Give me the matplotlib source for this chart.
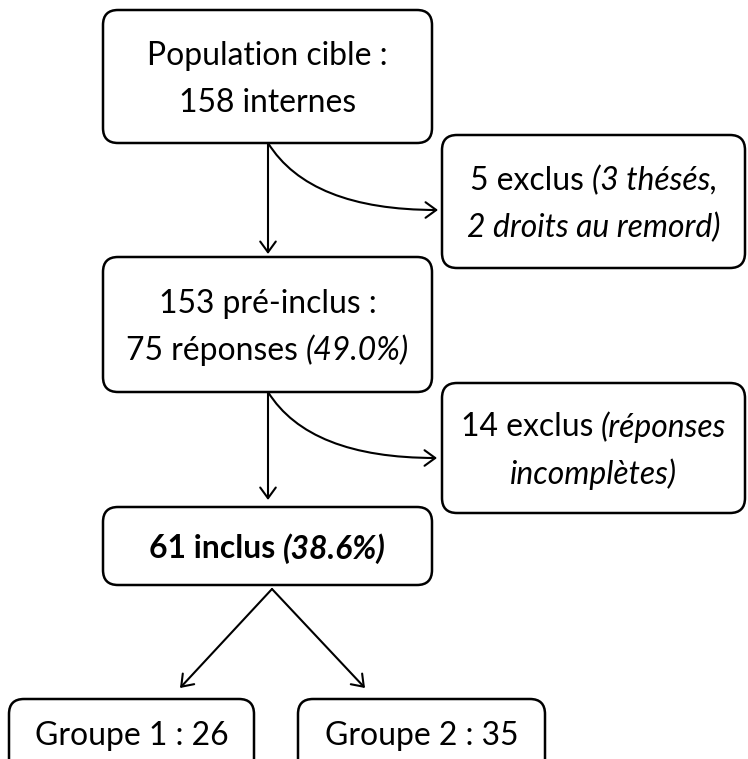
import matplotlib
matplotlib.use("Agg")
import matplotlib.pyplot as plt
from matplotlib.patches import FancyBboxPatch, FancyArrowPatch

plt.rcParams['font.family'] = ['Lato', 'DejaVu Sans']

# Flow data
population_cible = 158
exclus_1 = 5
theses = 3
droits_remord = 2
pre_inclus = 153
reponses = 75
taux_reponse = 49.0
exclus_2 = 14
inclus = 61
taux_inclusion = 38.6
groupes = ['Groupe 1', 'Groupe 2']
effectifs = [26, 35]

W, H = 748, 759
fig = plt.figure(figsize=(W / 100, H / 100), dpi=100)
ax = fig.add_axes([0, 0, 1, 1])
ax.set_xlim(0, W)
ax.set_ylim(H, 0)
ax.axis('off')
renderer = fig.canvas.get_renderer()

# box layout in pixels: x0, y0, x1, y1
boxes = {
    'pop': (103, 10, 432, 143),
    'excl1': (442, 135, 745, 268),
    'pre': (103, 257, 432, 392),
    'excl2': (442, 383, 745, 513),
    'incl': (103, 507, 432, 585),
    'g1': (9, 699, 254, 790),
    'g2': (298, 699, 545, 790),
}

for x0, y0, x1, y1 in boxes.values():
    ax.add_patch(FancyBboxPatch((x0, y0), x1 - x0, y1 - y0,
                                boxstyle='round,pad=0,rounding_size=15',
                                fc='white', ec='black', lw=1.8))

# font size fitted so the first line has the reference width
probe = ax.text(0, 0, 'Population cible :', fontsize=20)
fs = 20 * 241 / probe.get_window_extent(renderer).width
probe.remove()


def seg_width(s, **kw):
    t = ax.text(0, 0, s, fontsize=fs, **kw)
    w = t.get_window_extent(renderer).width
    t.remove()
    return w


space = seg_width('x x') - seg_width('xx')


def line(xc, yc, segments):
    # segments: list of (text, style, weight)
    widths = [seg_width(s, style=st, weight=wt) for s, st, wt in segments]
    total = sum(widths) + space * (len(segments) - 1)
    x = xc - total / 2
    for (s, st, wt), w in zip(segments, widths):
        ax.text(x, yc, s, fontsize=fs, style=st, weight=wt,
                ha='left', va='center')
        x += w + space


def box_text(key, lines, gap=47):
    x0, y0, x1, y1 = boxes[key]
    xc = (x0 + x1) / 2
    yc = (y0 + y1) / 2 + 3 if key not in ('g1', 'g2') else 736
    n = len(lines)
    for i, segs in enumerate(lines):
        line(xc, yc + (i - (n - 1) / 2) * gap, segs)


N, I = 'normal', 'italic'
box_text('pop', [[('Population cible :', N, 'normal')],
                 [(f'{population_cible} internes', N, 'normal')]])
box_text('excl1', [[(f'{exclus_1} exclus', N, 'normal'), (f'({theses} thésés,', I, 'normal')],
                   [(f'{droits_remord} droits au remord)', I, 'normal')]])
box_text('pre', [[(f'{pre_inclus} pré-inclus :', N, 'normal')],
                 [(f'{reponses} réponses', N, 'normal'), (f'({taux_reponse:.1f}%)', I, 'normal')]])
box_text('excl2', [[(f'{exclus_2} exclus', N, 'normal'), ('(réponses', I, 'normal')],
                   [('incomplètes)', I, 'normal')]])
box_text('incl', [[(f'{inclus} inclus', N, 'bold'), (f'({taux_inclusion:.1f}%)', I, 'bold')]])
for key, g, n in zip(['g1', 'g2'], groupes, effectifs):
    box_text(key, [[(f'{g} : {n}', N, 'normal')]])

# arrows
style = '->,head_length=0.55,head_width=0.4'


def arrow(a, b, conn='arc3'):
    ax.add_patch(FancyArrowPatch(a, b, arrowstyle=style, mutation_scale=14,
                                 connectionstyle=conn, color='black', lw=1.5,
                                 shrinkA=0, shrinkB=0))


curve = 'angle3,angleA=-58,angleB=0'
arrow((268, 143), (268, 254))
arrow((268, 143), (438, 210), curve)
arrow((268, 392), (268, 500))
arrow((268, 392), (437, 458), curve)
arrow((272, 589), (180, 688))
arrow((272, 589), (365, 688))

fig.savefig('out.png', dpi=100)
